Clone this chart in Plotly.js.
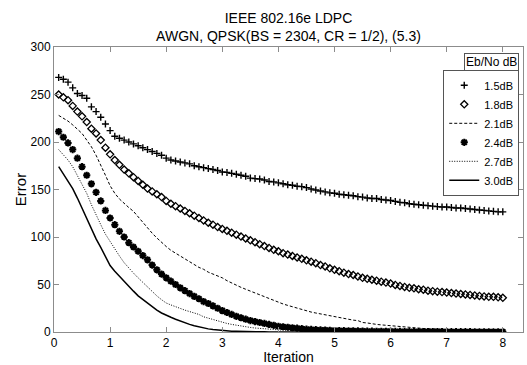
<!DOCTYPE html>
<html>
<head>
<meta charset="utf-8">
<script src="https://cdn.plot.ly/plotly-3.0.1.min.js"></script>
<style>html,body{margin:0;padding:0;background:#fff;}#chart{width:527px;height:365px;}</style>
</head>
<body>
<div id="chart"></div>
<script>
// x grid: 12 layers per iteration (802.16e rate-1/2 base matrix has 12 rows)
const LAYERS = 96;
const LAYERS_PER_ITER = 12;
const iteration = Array.from({length: LAYERS}, (_, i) => (i + 1) / LAYERS_PER_ITER);

const seriesNames = ["1.5dB", "1.8dB", "2.1dB", "2.4dB", "2.7dB", "3.0dB"];

const err15 = [268,266,263,257,251,249,246,237,232,226,219,212,
  206,204,202,200,198,196,194,192,190,188,186,183,
  181,180,179,178,177,175,174,173,172,171,170,168.5,
  168,167,166,165,164,162,161.5,161,160,158.5,158,157,
  156,155,154.5,153.5,153,152,150.5,149.5,148.5,147.5,146.5,146,
  145,144.5,144,143.5,142.5,142,141,140.5,140.5,139.5,139,138.5,
  137.5,136.5,136,135,134.5,134,133.5,133,132.5,132,131.5,131.5,
  131,130.5,130.5,130,129.5,129,128.5,128,127.5,127,126.5,126.5];

const err18 = [250,247,244,238,232,227,221,214,209,202,194,187,
  181,176,171,167,163,159,155,151,148,145,142,138,
  135,132.5,130,127.5,125,122.5,120,117.5,115,113,110.5,108.5,
  106.5,104.5,102.5,100.5,98.5,96.5,94.5,92.5,90.5,88.5,86.5,85,
  83,81.5,80,78.5,77,75.5,74,72.5,70.5,69,67,65.5,
  64,62.5,61,60,58.5,57,56,55,54,53,52,51,
  49.5,48.5,47.5,46.5,46,45,44.5,43.5,43,42.5,42,41.5,
  41,40.5,40,39.5,39,38.5,38,37.5,37,37,36.5,36];

const err21 = [228,225,222,218,214,209,202,195,186,176,165,154,
  146,140,135,131,127,121,115,109,104,99,94,90,
  86,83,80,77,74,71,68,66,63,61,59,57,
  54,51.5,49,47,45,43,41,39,37,35,33,31,
  29.5,28,26.5,25,23.5,22,21,20,19,18,17,16,
  15,14,13.5,12.5,12,10,9.5,8.5,8,7.5,7,6.5,
  6,5.5,5,4.8,4.5,4,3.7,3.4,3.1,2.8,2.5,2.2,
  2,1.8,1.6,1.4,1.2,1.0,0.9,0.8,0.7,0.6,0.5,0.5];

const err24 = [211,205,199,192,183,174,165,156,147,138,128,120,
  113,106,100,94,89.5,85,80.5,76,70.5,65.5,61,57,
  53.5,50,46.5,43.5,40.5,37.5,35,32,30,27.5,25,22.5,
  20.5,18.5,16.5,15,13.5,12,11,10,9,8,7,6,
  5.5,5,4.5,4,3.5,3,2.7,2.4,2.2,2,1.8,1.6,
  1.5,1.4,1.3,1.2,1.1,1.0,0.9,0.9,0.8,0.8,0.7,0.7,
  0.6,0.6,0.5,0.5,0.5,0.5,0.4,0.4,0.4,0.4,0.4,0.3,
  0.3,0.3,0.3,0.3,0.3,0.2,0.2,0.2,0.2,0.2,0.2,0.2];

const err27 = [192,187,181,174,165,156,146,134,123,113,103,95,
  87,80,73,67,62,57,52,47.5,42,38,34,30.5,
  28.5,26.5,24.5,23,21.5,20,18.5,16,14.5,13,11.5,10,
  9,8,7,6.2,5.5,4.8,4.2,3.7,3.3,2.9,2.6,2.3,
  2,1.8,1.6,1.4,1.2,1.1,1.0,0.9,0.8,0.7,0.6,0.5,
  0.5,0.4,0.4,0.4,0.3,0.3,0.3,0.3,0.2,0.2,0.2,0.2,
  0.2,0.2,0.2,0.1,0.1,0.1,0.1,0.1,0.1,0.1,0.1,0.1,
  0.1,0.1,0.1,0.1,0.1,0.1,0.1,0.1,0.1,0.1,0.1,0.1];

const err30 = [174,166,159,151,141,130,119,108,98,89,79.5,70,
  64,58.5,53,48,43,38,34,30,26.5,23,20,17.5,
  15.5,13.5,11.5,9.5,8,6.5,5.3,4.3,3.3,2.6,2,1.5,
  1.1,0.9,0.7,0.5,0.4,0.3,0.3,0.2,0.2,0.1,0.1,0.1,
  0.1,0.1,0,0,0,0,0,0,0,0,0,0,
  0,0,0,0,0,0,0,0,0,0,0,0,
  0,0,0,0,0,0,0,0,0,0,0,0,
  0,0,0,0,0,0,0,0,0,0,0,0];

const xTicks = [0,1,2,3,4,5,6,7,8];
const yTicks = [0,50,100,150,200,250,300];

const FONT = "Liberation Sans, Arial, Helvetica, sans-serif";
const AX = "#8c8c8c";

const traces = [
  {x: iteration, y: err15, name: seriesNames[0], mode: "markers",
   marker: {symbol: "cross-thin", size: 5, color: "#000", line: {width: 1.4, color: "#000"}}},
  {x: iteration, y: err18, name: seriesNames[1], mode: "markers",
   marker: {symbol: "diamond-open", size: 5.5, color: "#000", line: {width: 1.3, color: "#000"}}},
  {x: iteration, y: err21, name: seriesNames[2], mode: "lines",
   line: {color: "#000", width: 1, dash: "3px,2px"}},
  {x: iteration, y: err24, name: seriesNames[3], mode: "markers",
   marker: {symbol: "asterisk-open", size: 6, color: "#000", line: {width: 2, color: "#000"}}},
  {x: iteration, y: err27, name: seriesNames[4], mode: "lines",
   line: {color: "#000", width: 1, dash: "1px,1.5px"}},
  {x: iteration, y: err30, name: seriesNames[5], mode: "lines",
   line: {color: "#000", width: 1.5}}
];

const layout = {
  width: 527, height: 365,
  margin: {l: 54, r: 4, t: 47, b: 33, pad: 0},
  paper_bgcolor: "#fff", plot_bgcolor: "#fff",
  font: {family: FONT, size: 12, color: "#000"},
  title: {text: "IEEE 802.16e LDPC<br>AWGN, QPSK(BS = 2304, CR = 1/2), (5.3)",
          font: {family: FONT, size: 14, color: "#000"},
          x: 0.5, xref: "paper", xanchor: "center",
          y: 1, yref: "paper", yanchor: "bottom", pad: {b: 24}},
  xaxis: {range: [0, 8.36], tickvals: xTicks, ticktext: xTicks.map(String),
          showgrid: false, zeroline: false, showline: true, linecolor: AX, linewidth: 1,
          mirror: "ticks", ticks: "inside", ticklen: 5, tickcolor: AX,
          tickfont: {family: FONT, size: 12, color: "#000"},
          title: {text: "Iteration", font: {family: FONT, size: 14, color: "#000"}, standoff: 2}},
  yaxis: {range: [0, 300], tickvals: yTicks, ticktext: yTicks.map(String),
          showgrid: false, zeroline: false, showline: true, linecolor: AX, linewidth: 1,
          mirror: "ticks", ticks: "inside", ticklen: 5, tickcolor: AX,
          tickfont: {family: FONT, size: 12, color: "#000"},
          title: {text: "Error", font: {family: FONT, size: 15, color: "#000"}, standoff: 0}},
  showlegend: true,
  legend: {x: 0.992, xanchor: "right", y: 0.92, yanchor: "top",
           bgcolor: "#fff", bordercolor: "#555", borderwidth: 1,
           font: {family: FONT, size: 11, color: "#000"},
           itemwidth: 30, tracegroupgap: 0},
  annotations: [{text: "Eb/No dB", xref: "paper", yref: "paper", x: 0.992, xanchor: "right",
                 y: 0.98, yanchor: "top", showarrow: false,
                 font: {family: FONT, size: 12, color: "#000"},
                 bordercolor: "#555", borderwidth: 1, borderpad: 1, bgcolor: "#fff"}]
};

Plotly.newPlot("chart", traces, layout, {displayModeBar: false, staticPlot: true});
</script>
</body>
</html>
